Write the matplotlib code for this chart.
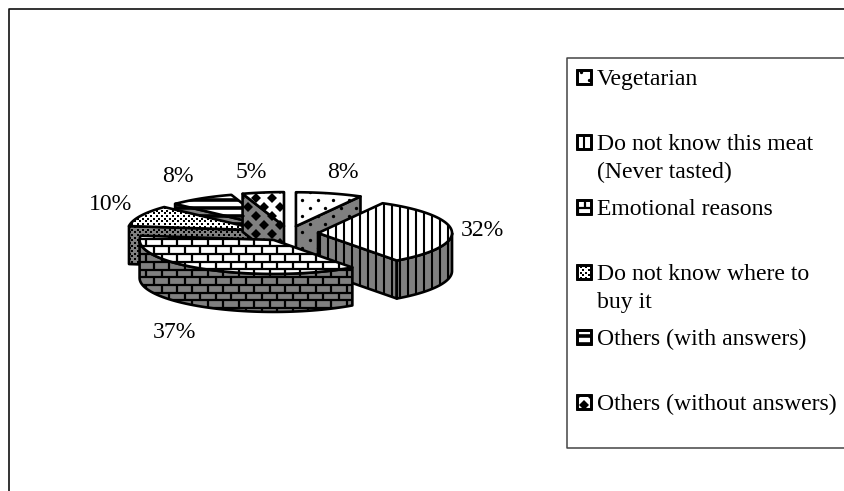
import numpy as np
import matplotlib
matplotlib.use("Agg")
import matplotlib.pyplot as plt
from matplotlib.collections import LineCollection
from matplotlib.patches import Polygon, Rectangle

categories = ["Vegetarian", "Do not know this meat\n(Never tasted)", "Emotional reasons",
              "Do not know where to\nbuy it", "Others (with answers)", "Others (without answers)"]
values = [8, 32, 37, 10, 8, 5]

# -------------------------------
# Layout, all in pixels of the 845x491 image
# -------------------------------
patterns = ["dots", "vlines", "bricks", "checks", "bands", "diamonds"]
label_xy = [(343, 173), (482, 231), (174, 333), (111, 205), (178, 177), (251, 172)]
legend_y = [85, 150, 215, 280, 345, 410]
paint_order = [4, 3, 5, 0, 1, 2]

cx, cy = 288.6, 233.5
rx, ry = 134, 34
depth = 38
explode = 0.22

plt.rcParams['font.family'] = ['Liberation Serif', 'DejaVu Serif']
fig = plt.figure(figsize=(8.45, 4.91), dpi=100)
ax = fig.add_axes([0, 0, 1, 1])
ax.set_xlim(0, 845)
ax.set_ylim(491, 0)
ax.axis('off')

z = [10]


def next_z():
    z[0] += 1
    return z[0]


def grid(lo, hi, step):
    return np.arange(np.floor(lo / step) * step, hi + step, step)


def draw_pattern(kind, clip, verts):
    x0, y0 = verts.min(axis=0)
    x1, y1 = verts.max(axis=0)
    artists = []
    if kind == "vlines":
        segs = [[(x, y0), (x, y1)] for x in grid(x0, x1, 8)]
        artists.append(LineCollection(segs, colors='k', linewidths=1.5))
    elif kind == "bands":
        segs = [[(x0, y), (x1, y)] for y in grid(y0, y1, 8)]
        artists.append(LineCollection(segs, colors='k', linewidths=2.6))
    elif kind == "bricks":
        segs = []
        for y in grid(y0, y1, 7.7):
            segs.append([(x0, y), (x1, y)])
            shift = 7.7 * (int(round(y / 7.7)) % 2)
            for x in grid(x0, x1, 15.4):
                segs.append([(x + shift, y), (x + shift, y + 7.7)])
        artists.append(LineCollection(segs, colors='k', linewidths=1.6))
    else:
        step_x, step_y, marker, size = {"dots": (15.5, 8, 'o', 2.4),
                                        "checks": (5.4, 2.7, 's', 1.9),
                                        "diamonds": (16, 9, 'D', 4.6)}[kind]
        xs, ys = [], []
        for y in grid(y0, y1, step_y):
            shift = step_x / 2 * (int(round(y / step_y)) % 2)
            for x in grid(x0, x1, step_x):
                xs.append(x + shift)
                ys.append(y)
        artists.append(ax.plot(xs, ys, ls='none', marker=marker, ms=size, mfc='k', mew=0)[0])
    for art in artists:
        if art.axes is None:
            ax.add_collection(art, autolim=False)
        art.set_zorder(next_z())
        art.set_clip_path(clip)


def draw_face(verts, kind, color):
    verts = np.array(verts)
    clip = Polygon(verts, closed=True, facecolor=color, edgecolor='none', zorder=next_z())
    ax.add_patch(clip)
    draw_pattern(kind, clip, verts)
    ax.add_patch(Polygon(verts, closed=True, fill=False, edgecolor='k', linewidth=1.9,
                         joinstyle='round', zorder=next_z()))


def rim(ax_x, ax_y, a1, a2):
    t = np.radians(np.linspace(a1, a2, 60))
    return np.column_stack([ax_x + rx * np.sin(t), ax_y - ry * np.cos(t)])


# -------------------------------
# Pie slices
# -------------------------------
edges = np.cumsum([0] + values) * 3.6
for i in paint_order:
    a1, a2 = edges[i], edges[i + 1]
    mid = np.radians((a1 + a2) / 2)
    ax_x = cx + explode * rx * np.sin(mid)
    ax_y = cy - explode * ry * np.cos(mid)
    apex = np.array([ax_x, ax_y])
    drop = np.array([0, depth])

    # radial faces, only the ones turned to the viewer
    if np.cos(np.radians(a1 - 90)) < -1e-6:
        p = rim(ax_x, ax_y, a1, a1)[0]
        draw_face([apex, p, p + drop, apex + drop], patterns[i], '#808080')
    if np.cos(np.radians(a2 + 90)) < -1e-6:
        p = rim(ax_x, ax_y, a2, a2)[0]
        draw_face([apex, p, p + drop, apex + drop], patterns[i], '#808080')

    # outer wall, front half only
    f1, f2 = max(a1, 90), min(a2, 270)
    if f2 > f1:
        arc = rim(ax_x, ax_y, f1, f2)
        draw_face(np.vstack([arc, (arc + drop)[::-1]]), patterns[i], '#808080')

    # top
    draw_face(np.vstack([apex, rim(ax_x, ax_y, a1, a2)]), patterns[i], 'white')

for v, (x, y) in zip(values, label_xy):
    ax.text(x, y, f"{v}%", fontsize=17.1, ha='center', va='center', zorder=100)

# -------------------------------
# Frame and legend
# -------------------------------
ax.plot([845, 9.5, 9.5], [8.5, 8.5, 491], color='#111111', lw=1.2, clip_on=False, zorder=5)
ax.plot([845, 567.5, 567.5, 845], [57.5, 57.5, 448, 448], color='#444444', lw=1.1, zorder=5)

for name, kind, y in zip(categories, patterns, legend_y):
    x0, x1 = 577, 591
    y0, y1 = y - 15, y - 1
    draw_face([(x0, y0), (x1, y0), (x1, y1), (x0, y1)], kind, 'white')
    ax.add_patch(Rectangle((x0, y0), x1 - x0, y1 - y0, fill=False, edgecolor='k', lw=2.0, zorder=next_z()))
    for j, line in enumerate(name.split("\n")):
        ax.text(597, y + j * 28, line, fontsize=17.1, ha='left', va='baseline', zorder=100)

fig.savefig("out.png", dpi=100)
